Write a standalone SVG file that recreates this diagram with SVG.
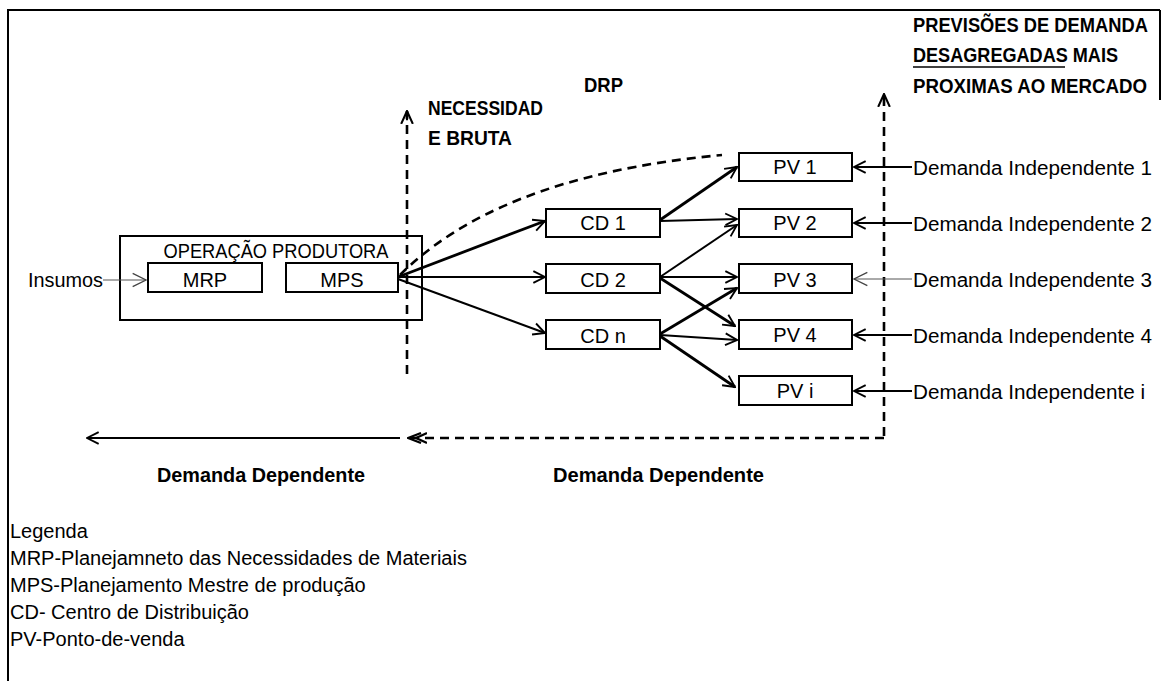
<svg xmlns="http://www.w3.org/2000/svg" width="1161" height="681" viewBox="0 0 1161 681">
  <style>
    .box { fill: #fff; stroke: #000; stroke-width: 2; }
    .t { font-family: "Liberation Sans", Arial, sans-serif; font-size: 20px; fill: #000; }
    .b { font-family: "Liberation Sans", Arial, sans-serif; font-size: 21px; font-weight: bold; fill: #000; }
    .c { text-anchor: middle; }
    .ln { stroke: #000; stroke-width: 2; fill: none; }
    .thick { stroke-width: 2.8; }
    .thin { stroke: #555; stroke-width: 1; }
    .dash { stroke: #000; stroke-width: 2.6; fill: none; stroke-dasharray: 9 6; }
  </style>
  <defs>
    <marker id="open" viewBox="0 0 12 12" refX="11" refY="6" markerWidth="14" markerHeight="14" markerUnits="userSpaceOnUse" orient="auto">
      <path d="M1,1 L11,6 L1,11" fill="none" stroke="#000" stroke-width="1.6"/>
    </marker>
    <marker id="openThin" viewBox="0 0 12 12" refX="11" refY="6" markerWidth="16" markerHeight="16" markerUnits="userSpaceOnUse" orient="auto">
      <path d="M1,1 L11,6 L1,11" fill="none" stroke="#444" stroke-width="1"/>
    </marker>
    <marker id="stealth" viewBox="0 0 12 12" refX="11" refY="6" markerWidth="14" markerHeight="14" markerUnits="userSpaceOnUse" orient="auto">
      <path d="M0,1 L11,6 L0,11 M11,6 L3,6" fill="none" stroke="#000" stroke-width="1.8"/>
    </marker>
    <marker id="double" viewBox="0 0 20 12" refX="19" refY="6" markerWidth="20" markerHeight="12" markerUnits="userSpaceOnUse" orient="auto">
      <path d="M0,1 L11,6 L0,11 M6,1 L19,6 L6,11" fill="none" stroke="#000" stroke-width="2.2"/>
    </marker>
  </defs>

  <!-- page frame -->
  <g id="frame" fill="none" stroke="#000" stroke-width="2">
    <path d="M8,681 L8,10 L1160,10"/>
    <path d="M1160,10 L1160,100"/>
  </g>

  <!-- headings -->
  <g id="headings">
    <text class="b" transform="translate(913,32) scale(0.872,1)">PREVISÕES DE DEMANDA</text>
    <text class="b" x="913" y="62" textLength="205" lengthAdjust="spacingAndGlyphs">DESAGREGADAS MAIS</text>
    <line x1="913" y1="67" x2="1065" y2="67" stroke="#000" stroke-width="1.5"/>
    <text class="b" transform="translate(913,93) scale(0.891,1)">PROXIMAS AO MERCADO</text>
    <text class="b" x="584" y="92" textLength="39" lengthAdjust="spacingAndGlyphs">DRP</text>
    <text class="b" x="428" y="115" textLength="115" lengthAdjust="spacingAndGlyphs">NECESSIDAD</text>
    <text class="b" x="428" y="145" textLength="84" lengthAdjust="spacingAndGlyphs">E  BRUTA</text>
  </g>

  <!-- production -->
  <g id="operacao">
    <rect x="120" y="236" width="302" height="84" fill="none" stroke="#000" stroke-width="2"/>
    <text class="t c" x="276" y="258" textLength="225" lengthAdjust="spacingAndGlyphs">OPERAÇÃO PRODUTORA</text>
  </g>

  <!-- connectors -->
  <g id="connectors">
    <!-- boundary lines -->
    <line class="dash" x1="407" y1="374" x2="407" y2="111" marker-end="url(#stealth)"/>
    <line class="dash" x1="884" y1="436" x2="884" y2="94" marker-end="url(#stealth)"/>
    <line class="dash" x1="884" y1="438" x2="408" y2="438" marker-end="url(#double)"/>
    <line class="ln" x1="400" y1="438" x2="87" y2="438" marker-end="url(#open)"/>
    <path class="dash" d="M400,275 C460,215 560,170 722,155" stroke-width="3" stroke-dasharray="12 8"/>

    <!-- inputs -->
    <line class="thin" x1="103" y1="280" x2="146" y2="280" marker-end="url(#openThin)"/>

    <!-- MPS to distribution centres -->
    <line class="ln thick" x1="398" y1="277" x2="545" y2="221" marker-end="url(#open)"/>
    <line class="ln" x1="398" y1="277" x2="545" y2="277" marker-end="url(#open)"/>
    <line class="ln" x1="398" y1="279" x2="545" y2="333" stroke-width="1.5" marker-end="url(#open)"/>

    <!-- distribution centres to points of sale -->
    <line class="ln thick" x1="660" y1="220" x2="737" y2="167" marker-end="url(#open)"/>
    <line class="ln" x1="660" y1="221" x2="737" y2="219" marker-end="url(#open)"/>
    <line class="ln" x1="660" y1="277" x2="737" y2="225" stroke-width="1.6" marker-end="url(#open)"/>
    <line class="ln" x1="660" y1="277" x2="737" y2="277" marker-end="url(#open)"/>
    <line class="ln thick" x1="660" y1="278" x2="735" y2="326" marker-end="url(#open)"/>
    <line class="ln thick" x1="660" y1="334" x2="737" y2="288" marker-end="url(#open)"/>
    <line class="ln" x1="660" y1="335" x2="737" y2="340" marker-end="url(#open)"/>
    <line class="ln thick" x1="660" y1="336" x2="735" y2="387" marker-end="url(#open)"/>

    <!-- independent demand -->
    <line class="ln" x1="912" y1="167" x2="854" y2="167" marker-end="url(#open)"/>
    <line class="ln" x1="912" y1="223" x2="854" y2="223" marker-end="url(#open)"/>
    <line class="thin" x1="912" y1="279" x2="854" y2="279" marker-end="url(#openThin)"/>
    <line class="ln" x1="912" y1="335" x2="854" y2="335" marker-end="url(#open)"/>
    <line class="ln" x1="912" y1="391" x2="854" y2="391" marker-end="url(#open)"/>
  </g>

  <g id="mrp">
    <rect class="box" x="148" y="263" width="114" height="29" stroke-width="2.4"/>
    <text class="t c" x="205" y="287">MRP</text>
  </g>
  <g id="mps">
    <rect class="box" x="286" y="263" width="112" height="29" stroke-width="2.4"/>
    <text class="t c" x="342" y="287">MPS</text>
  </g>
  <g id="insumos">
    <text class="t" x="28" y="287" textLength="75" lengthAdjust="spacingAndGlyphs">Insumos</text>
  </g>

  <!-- distribution centres -->
  <g id="cd1">
    <rect class="box" x="546" y="209" width="114" height="28"/>
    <text class="t c" x="603" y="230">CD 1</text>
  </g>
  <g id="cd2">
    <rect class="box" x="546" y="264" width="114" height="29" stroke-width="2.4"/>
    <text class="t c" x="603" y="287">CD 2</text>
  </g>
  <g id="cdn">
    <rect class="box" x="546" y="320" width="114" height="29"/>
    <text class="t c" x="603" y="343">CD n</text>
  </g>

  <!-- points of sale -->
  <g id="pv1">
    <rect class="box" x="739" y="153" width="113" height="28"/>
    <text class="t c" x="795" y="174">PV 1</text>
  </g>
  <g id="pv2">
    <rect class="box" x="739" y="209" width="113" height="28"/>
    <text class="t c" x="795" y="230">PV 2</text>
  </g>
  <g id="pv3">
    <rect class="box" x="739" y="264" width="113" height="29" stroke-width="2.4"/>
    <text class="t c" x="795" y="287">PV 3</text>
  </g>
  <g id="pv4">
    <rect class="box" x="739" y="320" width="113" height="29"/>
    <text class="t c" x="795" y="342">PV 4</text>
  </g>
  <g id="pvi">
    <rect class="box" x="739" y="376" width="113" height="29"/>
    <text class="t c" x="795" y="398">PV i</text>
  </g>

  <!-- independent demand labels -->
  <g id="demandas">
    <text class="t" x="913" y="175" textLength="239" lengthAdjust="spacingAndGlyphs">Demanda Independente 1</text>
    <text class="t" x="913" y="231" textLength="239" lengthAdjust="spacingAndGlyphs">Demanda Independente 2</text>
    <text class="t" x="913" y="287" textLength="239" lengthAdjust="spacingAndGlyphs">Demanda Independente 3</text>
    <text class="t" x="913" y="343" textLength="239" lengthAdjust="spacingAndGlyphs">Demanda Independente 4</text>
    <text class="t" x="913" y="399" textLength="232" lengthAdjust="spacingAndGlyphs">Demanda Independente i</text>
  </g>

  <!-- dependent demand labels -->
  <g id="dependente">
    <text class="b" x="157" y="482" textLength="208" lengthAdjust="spacingAndGlyphs">Demanda Dependente</text>
    <text class="b" x="553" y="482" textLength="211" lengthAdjust="spacingAndGlyphs">Demanda Dependente</text>
  </g>

  <!-- legend -->
  <g id="legenda">
    <text class="t" x="10" y="538">Legenda</text>
    <text class="t" x="10" y="565">MRP-Planejamneto das Necessidades de Materiais</text>
    <text class="t" x="10" y="592">MPS-Planejamento Mestre de produção</text>
    <text class="t" x="10" y="619">CD- Centro de Distribuição</text>
    <text class="t" x="10" y="646">PV-Ponto-de-venda</text>
  </g>
</svg>
